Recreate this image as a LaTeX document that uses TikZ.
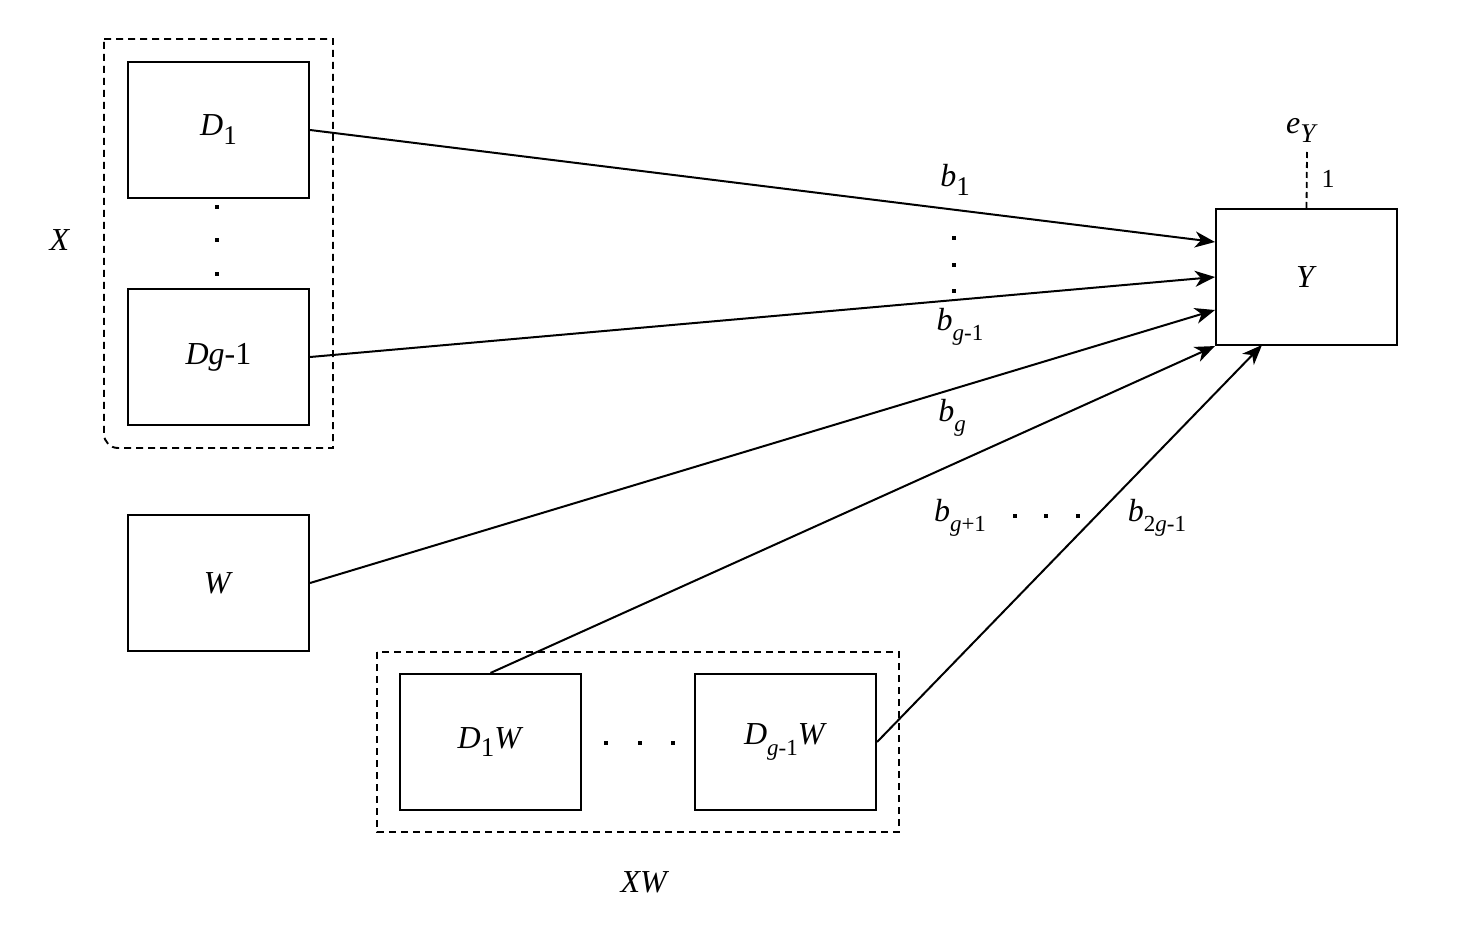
\documentclass[tikz,border=0pt]{standalone}
\usepackage{fontspec}
\setmainfont{Liberation Serif}
\usetikzlibrary{arrows.meta}
\newcommand\subs[1]{\raisebox{-0.32em}{\fontsize{23}{23}\selectfont #1}}
\newcommand\subb[1]{\raisebox{-0.28em}{\fontsize{27}{27}\selectfont #1}}
\begin{document}
\begin{tikzpicture}[x=1pt,y=-1pt,
  box/.style={draw,line width=2.1pt,minimum width=181pt,minimum height=136pt,inner sep=0pt,font=\fontsize{32}{35}\selectfont},
  lbl/.style={inner sep=0pt,font=\fontsize{32}{35}\selectfont},
  arr/.style={line width=2pt,-{Stealth[length=20pt,width=16pt,inset=6pt]}},
  grp/.style={draw,line width=1.9pt,dash pattern=on 7pt off 5pt},
  dotm/.style={fill,inner sep=0pt,minimum size=4.5pt}]
\useasboundingbox (0,0) rectangle (1470,928);
% X group
\draw[grp] (104,39) -- (333,39) -- (333,448) -- (120,448) [rounded corners=14pt] -- (104,448) [sharp corners] -- (104,39);
\node[box] (d1) at (218.5,130) {\textit{D}\subb{1}};
\node[box] (dg) at (218.5,357) {\textit{Dg}-1};
\node[dotm] (p1) at (217,207) {};
\node[dotm] (p2) at (217,240) {};
\node[dotm] (p3) at (217,274) {};
\node[lbl] (xl) at (60,240) {\textit{X}};
% W
\node[box] (w) at (218.5,583) {\textit{W}};
% Y
\node[box] (y) at (1306.5,277) {\textit{Y}};
\node[lbl] (ey) at (1302,130) {\textit{e}\subb{\textit{Y}}};
\coordinate (eyb) at (1307,152);
\draw[line width=1.8pt,dash pattern=on 6pt off 4pt] (eyb) -- (y.north);
\node[lbl,font=\fontsize{26}{27}\selectfont] (one) at (1328,179) {1};
% XW group
\draw[grp] (377,652) rectangle (899,832);
\node[box] (d1w) at (490.5,742) {\textit{D}\subb{1}\textit{W}};
\node[box] (dgw) at (785.5,742) {\textit{D}\subs{\textit{g}-1}\textit{W}};
\node[dotm] (q1) at (606,743) {};
\node[dotm] (q2) at (640,743) {};
\node[dotm] (q3) at (673,743) {};
\node[lbl] (xwl) at (645,882) {\textit{XW}};
% arrows
\coordinate (t1) at (1215,242);
\coordinate (t2) at (1215,277);
\coordinate (t3) at (1215,310);
\draw[arr] (d1.east) -- (t1);
\draw[arr] (dg.east) -- (t2);
\draw[arr] (w.east) -- (t3);
\draw[arr] (d1w.north) -- (y.south west);
\coordinate (t5) at (1262,345);
\draw[arr] (dgw.east) -- (t5);
% labels
\node[lbl] (b1) at (955,180) {\textit{b}\subb{1}};
\node[dotm,minimum size=4pt] (r1) at (954,238) {};
\node[dotm,minimum size=4pt] (r2) at (954,265) {};
\node[dotm,minimum size=4pt] (r3) at (954,291) {};
\node[lbl] (bg1) at (960,327) {\textit{b}\subs{\textit{g}-1}};
\node[lbl] (bg) at (952,418) {\textit{b}\subs{\textit{g}}};
\node[lbl] (bgp) at (960,518) {\textit{b}\subs{\textit{g}+1}};
\node[dotm,minimum size=4pt] (s1) at (1015,516) {};
\node[dotm,minimum size=4pt] (s2) at (1046,516) {};
\node[dotm,minimum size=4pt] (s3) at (1078,516) {};
\node[lbl] (b2g) at (1157,518) {\textit{b}\subs{2\textit{g}-1}};
\end{tikzpicture}
\end{document}
